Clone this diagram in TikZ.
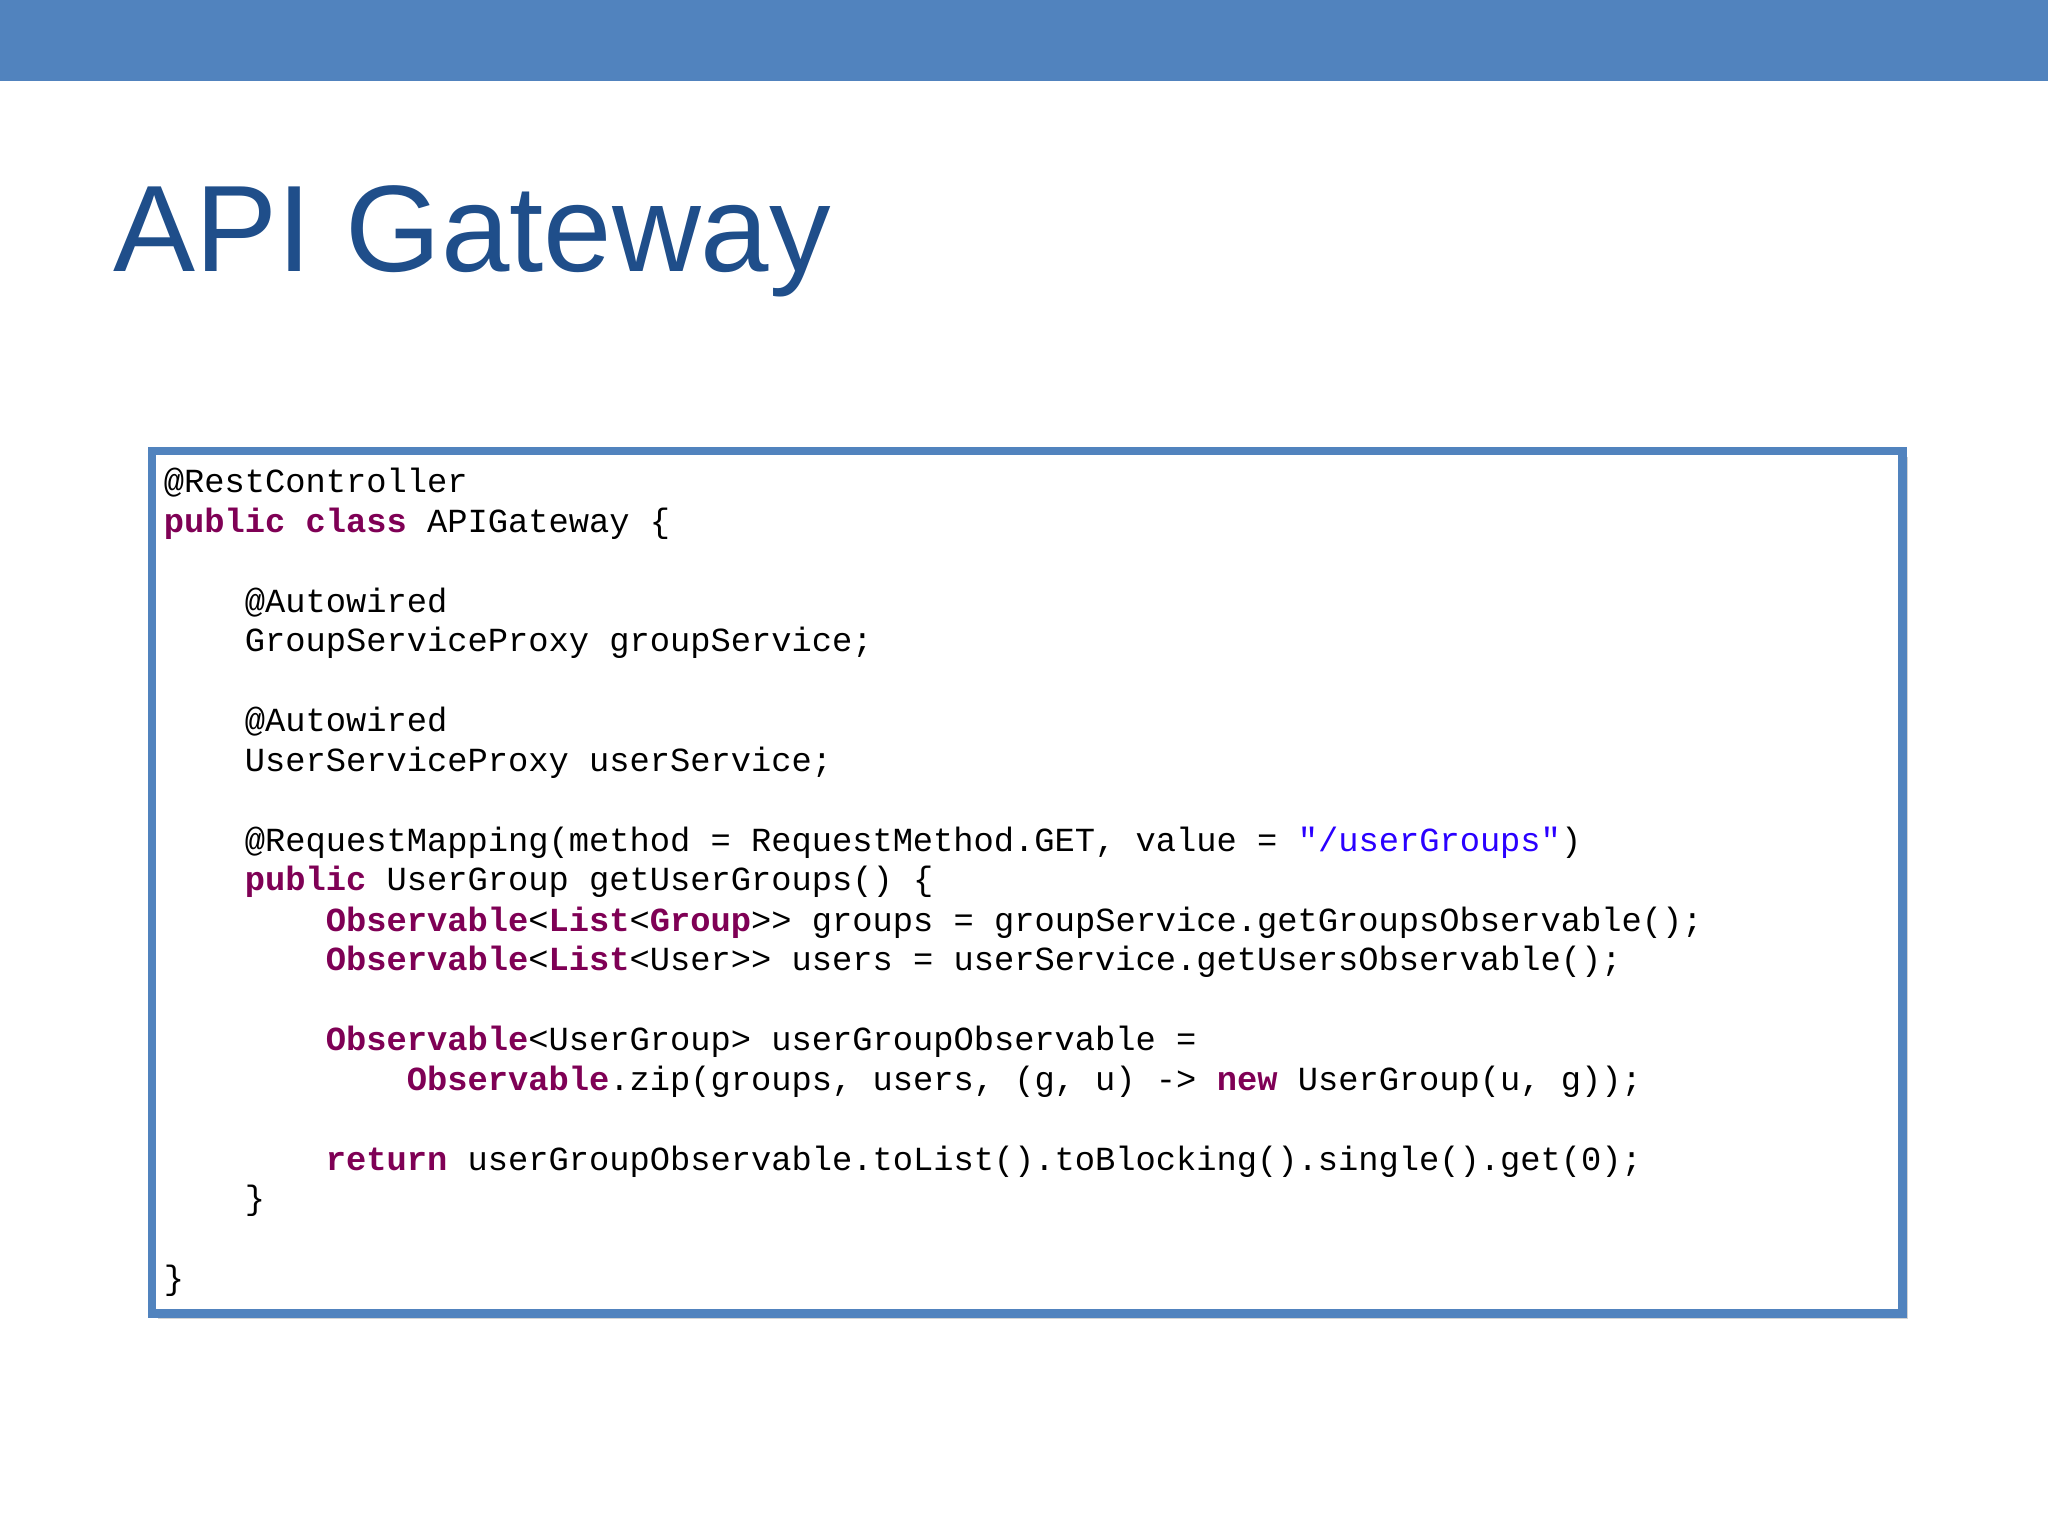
\documentclass[tikz,border=0pt]{standalone}
\usepackage{fontspec}
\setmainfont{Liberation Sans}
\setmonofont{Liberation Mono}
\usetikzlibrary{shadows}
\definecolor{bar}{HTML}{5183BE}
\definecolor{ttl}{HTML}{1F4E8A}
\definecolor{kw}{HTML}{7F0055}
\definecolor{str}{HTML}{2A00FF}
\newcommand{\kw}[1]{\textbf{\color{kw}#1}}
\newcommand{\st}[1]{{\color{str}#1}}
\tikzset{code/.style={anchor=base west,inner sep=0pt,font=\fontsize{9.6pt}{11pt}\ttfamily}}
\begin{document}
\begin{tikzpicture}[x=0.01306cm,y=-0.01306cm]
\useasboundingbox (0,0) rectangle (1568,1176);
\fill[bar] (0,0) rectangle (1568,62);
\node[anchor=base west,inner sep=0pt,text=ttl,font=\fontsize{35pt}{40pt}\selectfont] (title) at (86,208) {API Gateway};
\node[draw=bar,line width=2.5pt,fill=white,drop shadow={shadow xshift=0.6mm,shadow yshift=-0.6mm,opacity=0.35},minimum width=1340*0.01306cm,minimum height=660*0.01306cm,anchor=north west,inner sep=0pt] (box) at (113,342) {};
\def\c{15.5}
\node[code] (l1) at (125,377) {@RestController};
\node[code] (l2) at (125,408) {\kw{public} \kw{class} APIGateway \{};
\node[code] (l3) at (125+4*\c,469) {@Autowired};
\node[code] (l4) at (125+4*\c,499) {GroupServiceProxy groupService;};
\node[code] (l5) at (125+4*\c,560) {@Autowired};
\node[code] (l6) at (125+4*\c,591) {UserServiceProxy userService;};
\node[code] (l7) at (125+4*\c,652) {@RequestMapping(method = RequestMethod.GET, value = \st{"/userGroups"})};
\node[code] (l8) at (125+4*\c,682) {\kw{public} UserGroup getUserGroups() \{};
\node[code] (l9) at (125+8*\c,713) {\kw{Observable}<\kw{List}<\kw{Group}>{}> groups = groupService.getGroupsObservable();};
\node[code] (l10) at (125+8*\c,743) {\kw{Observable}<\kw{List}<User>{}> users = userService.getUsersObservable();};
\node[code] (l11) at (125+8*\c,804) {\kw{Observable}<UserGroup> userGroupObservable =};
\node[code] (l12) at (125+12*\c,835) {\kw{Observable}.zip(groups, users, (g, u) -{}> \kw{new} UserGroup(u, g));};
\node[code] (l13) at (125+8*\c,896) {\kw{return} userGroupObservable.toList().toBlocking().single().get(0);};
\node[code] (l14) at (125+4*\c,926) {\}};
\node[code] (l15) at (125,987) {\}};
\end{tikzpicture}
\end{document}
